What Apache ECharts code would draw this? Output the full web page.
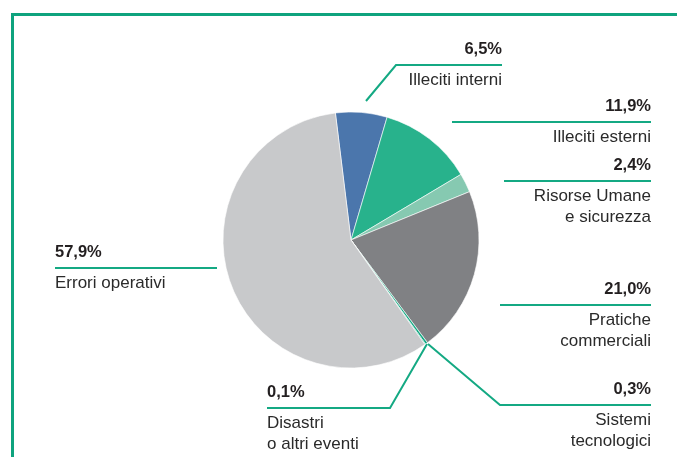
<!DOCTYPE html>
<html>
<head>
<meta charset="utf-8">
<script src="https://cdn.jsdelivr.net/npm/echarts@6/dist/echarts.min.js"></script>
<style>
  html, body { margin: 0; padding: 0; background: #fff; }
  .wrap { position: relative; width: 677px; height: 457px; overflow: hidden; }
  .frame {
    position: absolute; left: 11px; top: 13px; width: 700px; height: 500px;
    border-top: 3px solid #0fa37e; border-left: 3px solid #0fa37e;
  }
  #chart { position: absolute; left: 0; top: 0; width: 677px; height: 457px; }
</style>
</head>
<body>
<div class="wrap">
  <div class="frame"></div>
  <div id="chart"></div>
</div>
<script>
// dati
const categories = ['Illeciti interni', 'Illeciti esterni', 'Risorse Umane\ne sicurezza', 'Pratiche\ncommerciali',
  'Sistemi\ntecnologici', 'Disastri\no altri eventi', 'Errori operativi']
const values = [6.5, 11.9, 2.4, 21.0, 0.3, 0.1, 57.9]
const colors = ['#4b76ac', '#28b28c', '#86c9b1', '#808184', '#14a983', '#14a983', '#c8c9cb']

// posizione etichette e linee guida
const labelSide = ['right', 'right', 'right', 'right', 'right', 'left', 'left']
const labelX = [502, 651, 651, 651, 651, 267, 55]
const guidePoints = [
  [[366, 101], [396, 65], [502, 65]],
  [[452, 122], [452, 122], [651, 122]],
  [[504, 181], [504, 181], [651, 181]],
  [[500, 305], [500, 305], [651, 305]],
  [[428, 344], [500, 405], [651, 405]],
  [[427, 344], [390, 408], [267, 408]],
  [[217, 268], [217, 268], [55, 268]]
]

const FONT = '"Liberation Sans", Arial, sans-serif'
const fmtPct = v => v.toFixed(1).replace('.', ',') + '%'

const chart = echarts.init(document.getElementById('chart'))

const seriesData = values.map((v, i) => ({ name: categories[i], value: v }))

chart.setOption({
  animation: false,
  color: colors,
  series: [
    {
      type: 'pie',
      center: [351, 240],
      radius: 128,
      startAngle: 97,
      clockwise: true,
      avoidLabelOverlap: false,
      itemStyle: { borderColor: '#fff', borderWidth: 0.6 },
      label: {
        show: true,
        position: 'outside',
        formatter (p) {
          const s = labelSide[p.dataIndex] === 'right' ? 'r' : 'l'
          const lines = p.name.split('\n').map(t => `{n${s}|${t}}`).join('\n')
          return `{v${s}|${fmtPct(p.value)}}\n${lines}`
        },
        rich: {
          vr: { fontFamily: FONT, fontWeight: 'bold', fontSize: 16.5, color: '#231f20', lineHeight: 41, align: 'right' },
          nr: { fontFamily: FONT, fontSize: 17, color: '#2a2a2a', lineHeight: 21, align: 'right' },
          vl: { fontFamily: FONT, fontWeight: 'bold', fontSize: 16.5, color: '#231f20', lineHeight: 41, align: 'left' },
          nl: { fontFamily: FONT, fontSize: 17, color: '#2a2a2a', lineHeight: 21, align: 'left' }
        }
      },
      labelLine: {
        show: true,
        lineStyle: { color: '#14a983', width: 2 }
      },
      labelLayout (params) {
        const i = params.dataIndex
        const pts = guidePoints[i]
        return {
          x: labelX[i],
          y: pts[2][1] - 36,
          align: labelSide[i],
          verticalAlign: 'top',
          labelLinePoints: pts
        }
      },
      emphasis: { disabled: true },
      data: seriesData
    }
  ]
})
</script>
</body>
</html>
